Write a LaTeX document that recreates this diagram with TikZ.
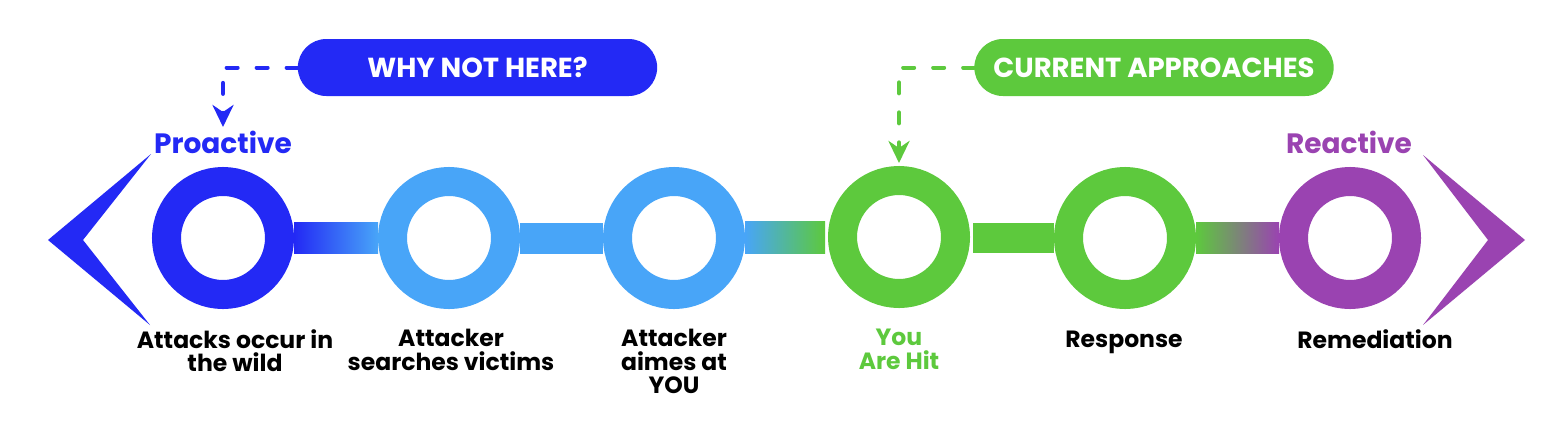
\documentclass[tikz,border=0pt]{standalone}
\usepackage{fontspec}
\setmainfont{Poppins}
\usetikzlibrary{positioning, arrows.meta, shapes.misc}
\definecolor{deepblue}{HTML}{2329F5}
\definecolor{skyblue}{HTML}{48A5F8}
\definecolor{leafgreen}{HTML}{5DC93D}
\definecolor{plum}{HTML}{9A43B1}
\tikzset{% 
	ring/.style = {name = #1, circle, draw, line width = 29pt, minimum size = 113pt, inner sep = 0pt},
	bar/.style 2 args = {left color = #1, right color = #2},
	pill/.style = {rounded rectangle, fill = #1, text = white, minimum width = 366pt, minimum height = 57pt, font = \bfseries\fontsize{27.5}{30}\selectfont},
	stage/.style = {align = center, anchor = north, inner sep = 0pt, font = \bfseries\fontsize{23.5}{23.5}\selectfont},
	side/.style = {text = #1, font = \bfseries\fontsize{28}{30}\selectfont},
	callout/.style = {line width = 4pt, line cap = round, dash pattern = on 11pt off 19pt, -{Stealth[length = 22pt, width = 21pt, inset = 7pt]}}
}
\begin{document}
\begin{tikzpicture}[x=1pt, y=-1pt]
			\useasboundingbox (0,0) rectangle (1568,429);
			\fill [white] (0,0) rectangle (1568,429);
			\node [ring = wild, draw = deepblue] at (223,238) {};
			\node [ring = search, draw = skyblue] at (449,238) {};
			\node [ring = aim, draw = skyblue] at (674,238) {};
			\node [ring = hit, draw = leafgreen, outer sep = 17.5pt] at (899,237) {};
			\node [ring = response, draw = leafgreen] at (1125,238) {};
			\node [ring = remedy, draw = plum] at (1350,238) {};
			\fill [bar = {deepblue}{skyblue}] ([yshift=-15.5pt]wild.east) rectangle ([yshift=15.5pt]search.west);
			\fill [skyblue] ([yshift=-15.5pt]search.east) rectangle ([yshift=15.5pt]aim.west);
			\fill [bar = {skyblue}{leafgreen}] ([yshift=-15.5pt]aim.east) rectangle ([yshift=15.5pt]hit.west);
			\fill [leafgreen] ([yshift=-15.5pt]hit.east) rectangle ([yshift=15.5pt]response.west);
			\fill [bar = {leafgreen}{plum}] ([yshift=-15.5pt]response.east) rectangle ([yshift=15.5pt]remedy.west);
			\fill [deepblue] (48,240) -- (151,154) -- (83,240) -- (150,325) -- cycle;
			\fill [plum] (1525,240) -- (1423,155) -- (1488,240) -- (1423,325) -- cycle;
			\node [side = deepblue] (proactive) at (223,142) {Proactive};
			\node [side = plum] (reactive) at (1349,142) {Reactive};
			\node [pill = deepblue] (whynot) at (477.5,67.5) {WHY NOT HERE?};
			\node [pill = leafgreen] (current) at (1154,67.5) {CURRENT APPROACHES};
			\coordinate (whytip) at (223,127);
			\draw [callout, deepblue] (whynot.west) -| (whytip);
			\draw [callout, leafgreen] (current.west) -| (hit.north);
			\node [stage] (wildtext) at (235,329) {Attacks occur in\\the wild};
			\node [stage] (searchtext) at (451,329) {Attacker\\searches victims};
			\node [stage] (aimtext) at (674,329) {Attacker\\aimes at\\YOU};
			\node [stage, text = leafgreen] (hittext) at (899,329) {You\\Are Hit};
			\node [stage] (responsetext) at (1124,331) {Response};
			\node [stage] (remedytext) at (1375,329) {Remediation};
			\end{tikzpicture}
\end{document}
